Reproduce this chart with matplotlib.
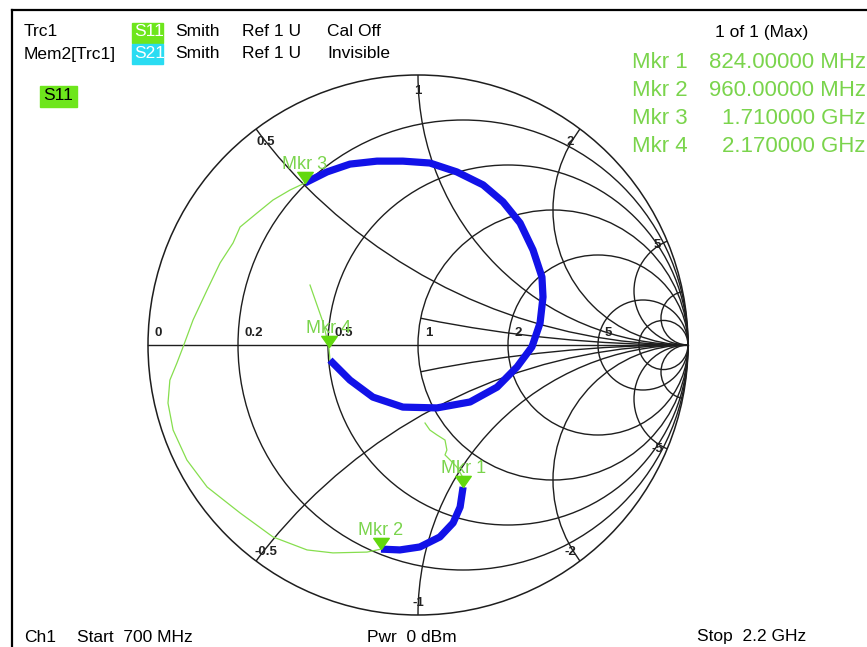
import matplotlib
matplotlib.use("Agg")
import matplotlib.pyplot as plt
from matplotlib.patches import Circle, Rectangle
from matplotlib.lines import Line2D

# S11 trace, reflection coefficient (re, im), 700 MHz -> 2.2 GHz
s11_re = [0.026, 0.044, 0.070, 0.100, 0.107, 0.100, 0.119, 0.144, 0.163, 0.167,
          0.156, 0.130, 0.081, 0.007, -0.067, -0.137, -0.189, -0.315, -0.411, -0.537,
          -0.659, -0.781, -0.856, -0.907, -0.926, -0.919, -0.893, -0.870, -0.833, -0.781,
          -0.733, -0.685, -0.659, -0.596, -0.537, -0.474, -0.419, -0.337, -0.252, -0.152,
          -0.056, 0.044, 0.144, 0.241, 0.315, 0.378, 0.426, 0.459, 0.463, 0.452,
          0.422, 0.367, 0.293, 0.193, 0.070, -0.056, -0.167, -0.252, -0.326, -0.330,
          -0.352, -0.400]
s11_im = [-0.289, -0.315, -0.333, -0.352, -0.389, -0.407, -0.426, -0.452, -0.485, -0.526,
          -0.600, -0.659, -0.711, -0.748, -0.759, -0.756, -0.767, -0.770, -0.759, -0.711,
          -0.622, -0.526, -0.426, -0.315, -0.215, -0.130, -0.067, -0.007, 0.093, 0.204,
          0.304, 0.378, 0.437, 0.489, 0.537, 0.574, 0.600, 0.641, 0.670, 0.681,
          0.681, 0.674, 0.641, 0.593, 0.530, 0.452, 0.352, 0.252, 0.178, 0.081,
          -0.007, -0.081, -0.156, -0.211, -0.233, -0.230, -0.193, -0.130, -0.056, -0.007,
          0.085, 0.222]

# marker positions (index into the trace) and their frequencies
mkr_idx = [9, 15, 36, 59]
mkr_freq = ["824.00000 MHz", "960.00000 MHz", "1.710000 GHz", "2.170000 GHz"]
# bands highlighted in blue (first and last trace index)
bands = [(9, 15), (36, 58)]

# smith grid
r_vals = [0.2, 0.5, 1, 2, 5, 10]
x_vals = [0.5, 1, 2, 5, 10]
r_labels = [0, 0.2, 0.5, 1, 2, 5]
x_labels = [0.5, 1, 2, 5, -0.5, -1, -2, -5]

W, H = 867, 647
plt.rcParams["font.family"] = ["Liberation Sans", "DejaVu Sans"]

fig = plt.figure(figsize=(W / 100, H / 100), dpi=100)


def fx(x):
    return x / W


def fy(y):
    return 1 - y / H


GRID = "#1e1e1e"
TRACE = "#86de4e"
MKR = "#62d80e"
MKR_TXT = "#7ad44c"
BLUE = "#1212e8"

# screen frame
fig.add_artist(Line2D([fx(12), 1], [fy(10), fy(10)], color="k", lw=1.6))
fig.add_artist(Line2D([fx(12), fx(12)], [fy(10), 0], color="k", lw=1.6))

# chart area: unit circle centred at (418, 345) px, radius 270 px
cx, cy, R, pad = 418, 345, 270, 1.05
ax = fig.add_axes([fx(cx - pad * R), fy(cy + pad * R), 2 * pad * R / W, 2 * pad * R / H])
ax.set_xlim(-pad, pad)
ax.set_ylim(-pad, pad)
ax.axis("off")

unit = Circle((0, 0), 1, transform=ax.transData)
inner = Circle((0.5, 0), 0.5, transform=ax.transData)

ax.add_patch(Circle((0, 0), 1, fill=False, ec=GRID, lw=1.1))
for r in r_vals:
    ax.add_patch(Circle((r / (1 + r), 0), 1 / (1 + r), fill=False, ec=GRID, lw=1.0))
for x in x_vals:
    for s in (1, -1):
        c = Circle((1, s / x), 1 / x, fill=False, ec=GRID, lw=1.0)
        ax.add_patch(c)
        c.set_clip_path(unit)
# x = 0.2 only shown inside the r = 1 circle
for s in (1, -1):
    c = Circle((1, s / 0.2), 1 / 0.2, fill=False, ec=GRID, lw=1.0)
    ax.add_patch(c)
    c.set_clip_path(inner)
ax.plot([-1, 1], [0, 0], color=GRID, lw=1.0)


def lab(v):
    return f"{v:g}"


for r in r_labels:
    g = (r - 1) / (r + 1)
    ax.annotate(lab(r), (g, 0), xytext=(5, 4), textcoords="offset points",
                ha="left", va="bottom", fontsize=9.5, fontweight="bold", color="#222222")
for x in x_labels:
    z = complex(0, x)
    g = (z - 1) / (z + 1)
    k = 0.96 if abs(x) == 5 else 0.94
    ax.annotate(lab(x), (g.real * k, g.imag * k), xytext=(0, -3 if x < 0 else 0),
                textcoords="offset points", ha="center", va="center",
                fontsize=9.5, fontweight="bold", color="#222222")

# trace, highlighted bands, markers
ax.plot(s11_re, s11_im, color=TRACE, lw=0.9, zorder=3)
for i0, i1 in bands:
    ax.plot(s11_re[i0:i1 + 1], s11_im[i0:i1 + 1], color=BLUE, lw=5.2,
            solid_capstyle="butt", solid_joinstyle="round", zorder=4)

tri = [(0, 0), (-0.7, 1), (0.7, 1), (0, 0)]
for n, i in enumerate(mkr_idx, start=1):
    ax.plot(s11_re[i], s11_im[i], marker=tri, markersize=16, color=MKR,
            linestyle="none", zorder=5)
    ax.annotate(f"Mkr {n}", (s11_re[i], s11_im[i]), xytext=(0, 10),
                textcoords="offset points", ha="center", va="baseline",
                fontsize=13, color=MKR_TXT, zorder=6)

# header lines
fs = 12.5
fig.add_artist(Rectangle((fx(132), fy(43)), 31 / W, 20 / H, transform=fig.transFigure,
                         color="#6ee61c", zorder=0))
fig.add_artist(Rectangle((fx(132), fy(64)), 31 / W, 20 / H, transform=fig.transFigure,
                         color="#2adcf2", zorder=0))
fig.add_artist(Rectangle((fx(40), fy(107)), 37 / W, 21 / H, transform=fig.transFigure,
                         color="#6ee61c", zorder=0))

row1 = [(24, "Trc1", "k"), (134, "S11", "white"), (175, "Smith", "k"),
        (242, "Ref 1 U", "k"), (327, "Cal Off", "k")]
row2 = [(24, "Mem2[Trc1]", "k"), (134, "S21", "white"), (175, "Smith", "k"),
        (242, "Ref 1 U", "k"), (327, "Invisible", "k")]
for x, t, c in row1:
    fig.text(fx(x), fy(32), t, ha="left", va="center", fontsize=fs, color=c)
for x, t, c in row2:
    fig.text(fx(x), fy(54), t, ha="left", va="center", fontsize=fs, color=c)
fig.text(fx(58), fy(96), "S11", ha="center", va="center", fontsize=fs, color="k")

fig.text(fx(762), fy(32), "1 of 1 (Max)", ha="center", va="center", fontsize=fs)
for n, f in enumerate(mkr_freq, start=1):
    y = 62 + (n - 1) * 28.3
    fig.text(fx(632), fy(y), f"Mkr {n}", ha="left", va="center", fontsize=16, color=MKR_TXT)
    fig.text(fx(866), fy(y), f, ha="right", va="center", fontsize=16, color=MKR_TXT)

# footer
fig.text(fx(24), fy(637), "Ch1", ha="left", va="center", fontsize=fs)
fig.text(fx(77), fy(637), "Start  700 MHz", ha="left", va="center", fontsize=fs)
fig.text(fx(367), fy(637), "Pwr  0 dBm", ha="left", va="center", fontsize=fs)
fig.text(fx(697), fy(637), "Stop  2.2 GHz", ha="left", va="center", fontsize=fs)

fig.savefig("out.png", dpi=100, facecolor="white")
